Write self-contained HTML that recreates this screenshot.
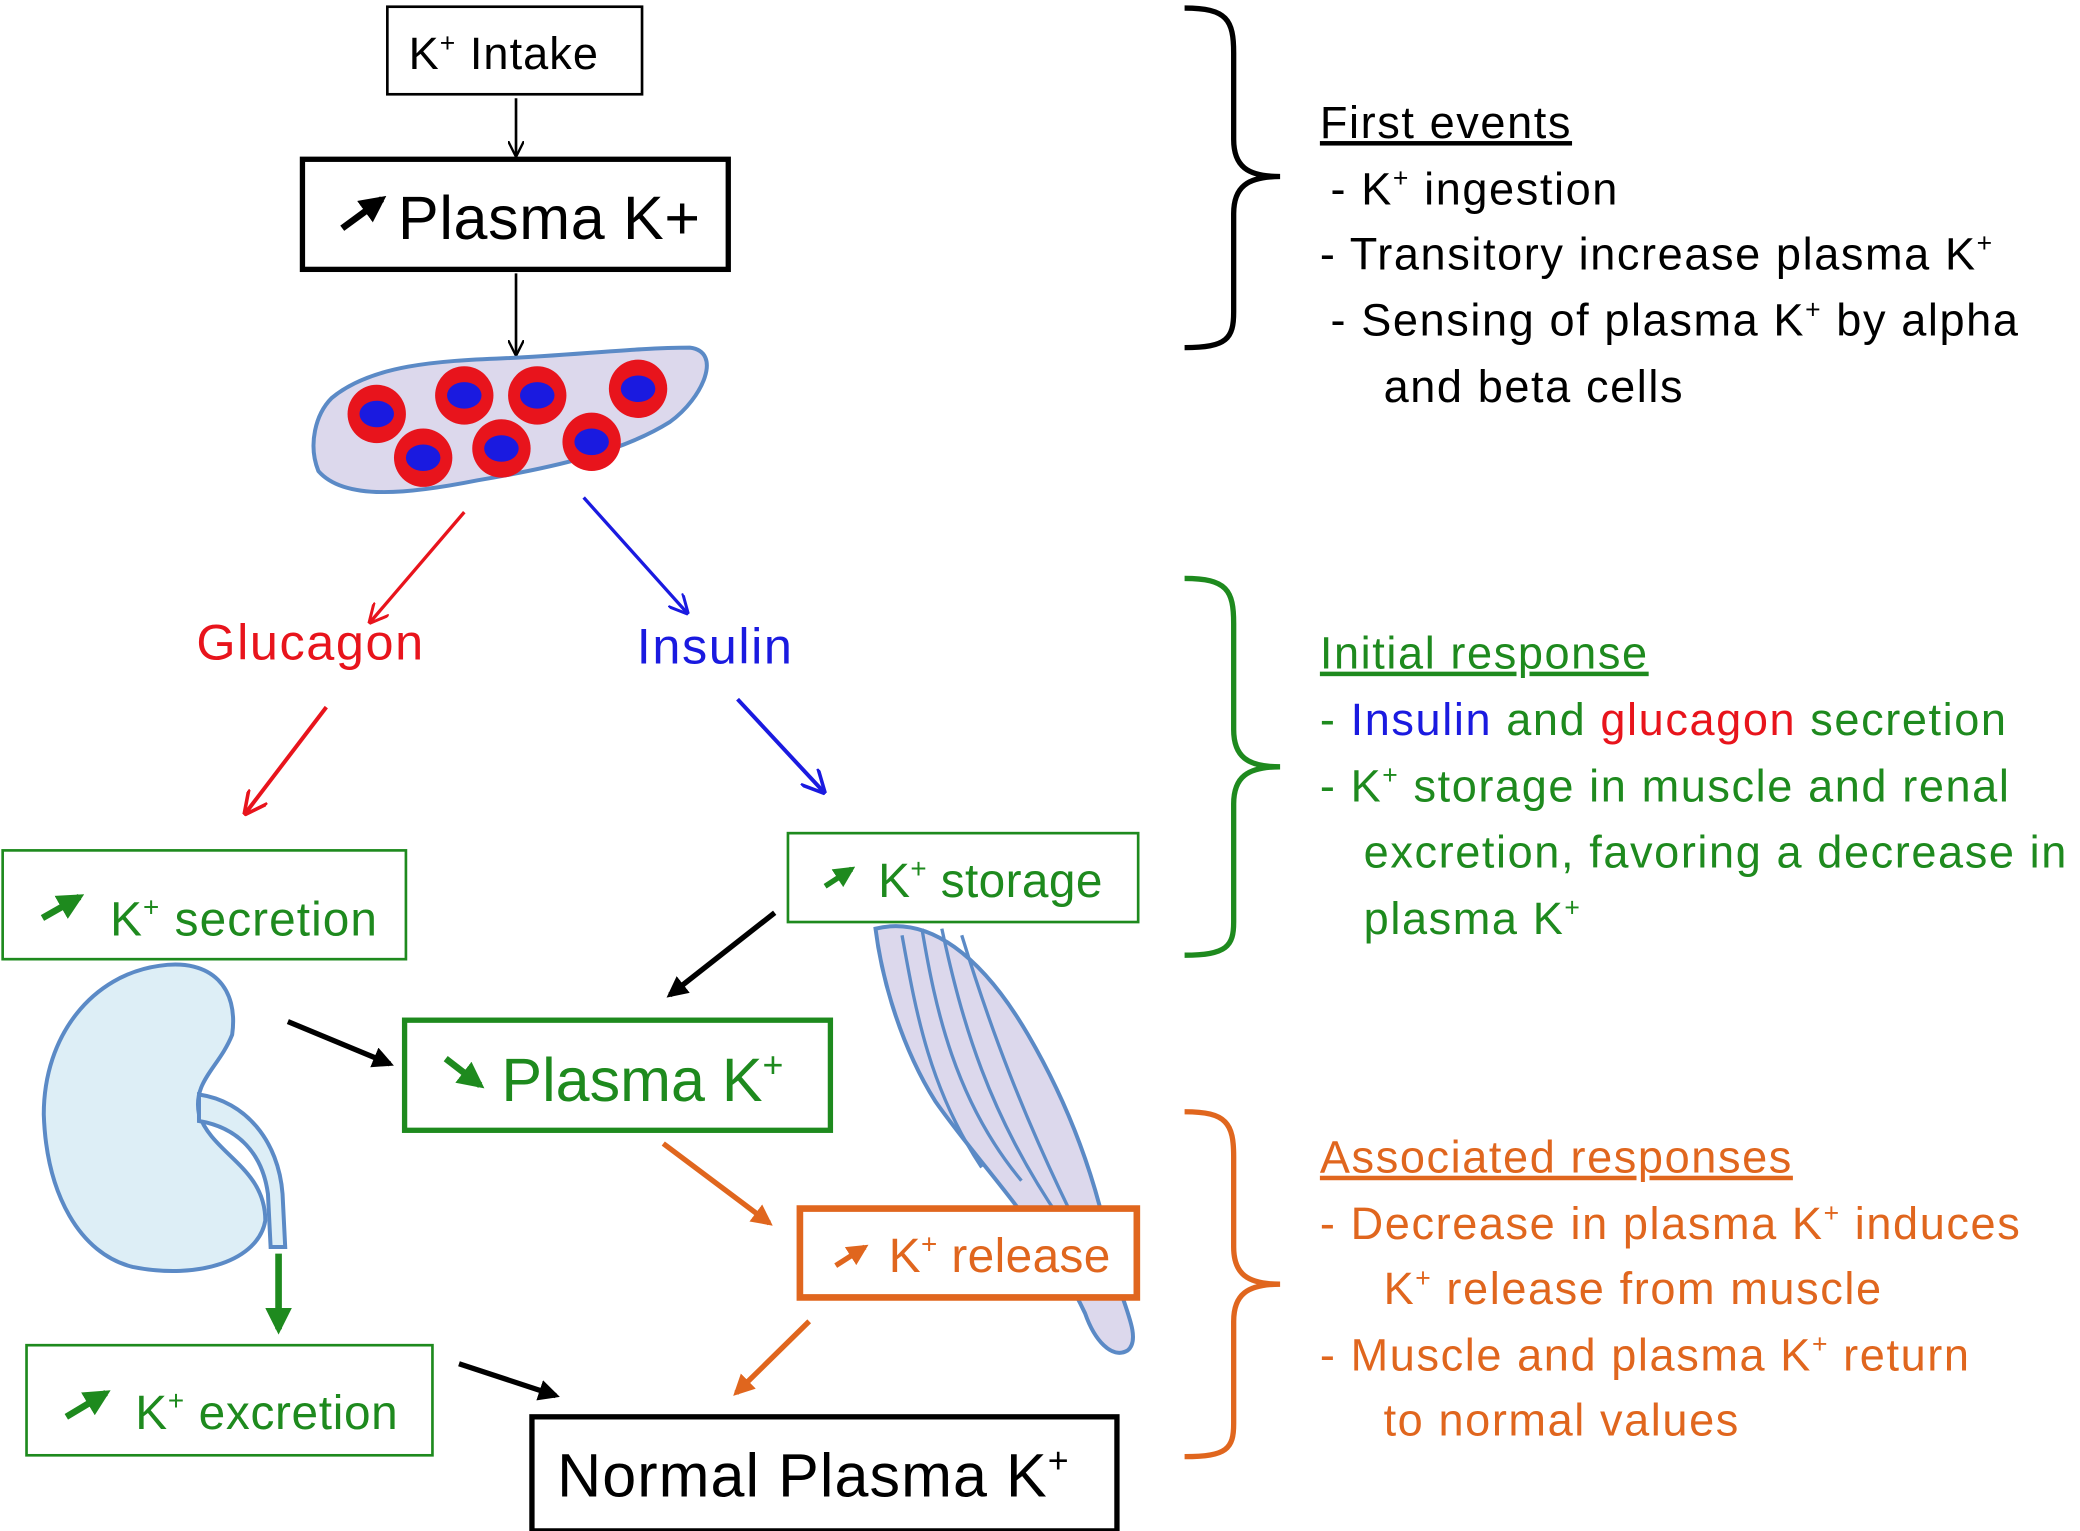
<!DOCTYPE html>
<html><head><meta charset="utf-8"><style>
html,body{margin:0;padding:0;background:#fff;}
svg{display:block;}
text{font-family:"Liberation Sans",sans-serif;}
</style></head><body>
<svg width="2080" height="1531" viewBox="0 0 1568 1154" xmlns="http://www.w3.org/2000/svg">
<defs>
<marker id="ak" viewBox="0 0 10 10" refX="9" refY="5" markerWidth="6" markerHeight="6" orient="auto"><path d="M0,0 L10,5 L0,10" fill="none" stroke="#000" stroke-width="1.5"/></marker>
<marker id="ar" viewBox="0 0 10 10" refX="9" refY="5" markerWidth="6" markerHeight="6" orient="auto"><path d="M0,0 L10,5 L0,10" fill="none" stroke="#e8141c" stroke-width="1.5"/></marker>
<marker id="ab" viewBox="0 0 10 10" refX="9" refY="5" markerWidth="6" markerHeight="6" orient="auto"><path d="M0,0 L10,5 L0,10" fill="none" stroke="#1a1ae0" stroke-width="1.5"/></marker>
<marker id="abk" viewBox="0 0 10 10" refX="8" refY="5" markerWidth="4" markerHeight="4" orient="auto"><path d="M0,0 L10,5 L0,10 z" fill="#000"/></marker>
<marker id="ao" viewBox="0 0 10 10" refX="8" refY="5" markerWidth="4" markerHeight="4" orient="auto"><path d="M0,0 L10,5 L0,10 z" fill="#e0661e"/></marker>
<marker id="ag" viewBox="0 0 10 10" refX="8" refY="5" markerWidth="4" markerHeight="4" orient="auto"><path d="M0,0 L10,5 L0,10 z" fill="#1e8a1e"/></marker>
</defs>

<rect x="292" y="5" width="192" height="66" fill="#fff" stroke="#000" stroke-width="2"/>
<text x="308" y="52" font-size="34" letter-spacing="0.8">K<tspan dy="-13" font-size="20">+</tspan><tspan dy="13"> Intake</tspan></text>
<line x1="389" y1="74" x2="389" y2="117" stroke="#000" stroke-width="2" marker-end="url(#ak)"/>
<rect x="228" y="120" width="321" height="83" fill="#fff" stroke="#000" stroke-width="4"/>
<line x1="258" y1="172" x2="288" y2="150" stroke="#000" stroke-width="5" marker-end="url(#abk)"/>
<text x="300" y="180" font-size="46" letter-spacing="0.5">Plasma K+</text>
<line x1="389" y1="206" x2="389" y2="267" stroke="#000" stroke-width="2" marker-end="url(#ak)"/>

<path d="M250,300 C280,275 330,272 380,270 C430,268 480,262 520,262 C545,265 530,300 505,318 C470,340 420,352 360,362 C310,372 260,378 240,355 C232,335 238,312 250,300 Z" fill="#dcd8ec" stroke="#5b8ac6" stroke-width="3"/>
<g fill="#e8141c"><circle cx="284" cy="312" r="22"/><circle cx="350" cy="298" r="22"/><circle cx="405" cy="298" r="22"/><circle cx="481" cy="293" r="22"/><circle cx="319" cy="345" r="22"/><circle cx="378" cy="338" r="22"/><circle cx="446" cy="333" r="22"/></g>
<g fill="#1a1ae0"><ellipse cx="284" cy="312" rx="13" ry="10"/><ellipse cx="350" cy="298" rx="13" ry="10"/><ellipse cx="405" cy="298" rx="13" ry="10"/><ellipse cx="481" cy="293" rx="13" ry="10"/><ellipse cx="319" cy="345" rx="13" ry="10"/><ellipse cx="378" cy="338" rx="13" ry="10"/><ellipse cx="446" cy="333" rx="13" ry="10"/></g>

<line x1="350" y1="386" x2="279" y2="469" stroke="#e8141c" stroke-width="2.5" marker-end="url(#ar)"/>
<line x1="440" y1="375" x2="518" y2="462" stroke="#1a1ae0" stroke-width="2.5" marker-end="url(#ab)"/>
<text x="148" y="497" font-size="38" fill="#e8141c" letter-spacing="1.2">Glucagon</text>
<text x="480" y="500" font-size="38" fill="#1a1ae0" letter-spacing="1.2">Insulin</text>
<line x1="246" y1="533" x2="185" y2="613" stroke="#e8141c" stroke-width="3" marker-end="url(#ar)"/>
<line x1="556" y1="527" x2="621" y2="597" stroke="#1a1ae0" stroke-width="3" marker-end="url(#ab)"/>

<path d="M660,700 C700,690 740,720 775,780 C810,840 830,900 840,960 C850,990 860,1010 850,1018 C838,1025 825,1010 818,990 C790,930 740,880 705,830 C680,790 665,740 660,700 Z" fill="#dcd8ec" stroke="#5b8ac6" stroke-width="3"/>
<g fill="none" stroke="#5b8ac6" stroke-width="2.5"><path d="M680,705 C690,760 700,820 740,880"/><path d="M695,700 C705,760 720,830 770,890"/><path d="M710,700 C725,770 745,840 800,920"/><path d="M725,705 C745,770 770,840 815,930"/></g>

<path d="M120,728 C160,722 180,745 175,780 C165,805 145,815 150,840 C160,870 200,880 200,920 C195,950 150,965 100,955 C60,945 35,900 33,840 C33,780 70,735 120,728 Z" fill="#ddeef6" stroke="#5b8ac6" stroke-width="3"/>
<path d="M150,825 C185,830 210,860 213,900 L215,940 L204,940 L202,900 C198,870 180,850 150,845 Z" fill="#ddeef6" stroke="#5b8ac6" stroke-width="3"/>

<rect x="2" y="641" width="304" height="82" fill="#fff" stroke="#1e8a1e" stroke-width="2"/>
<line x1="32" y1="692" x2="60" y2="676" stroke="#1e8a1e" stroke-width="5" marker-end="url(#ag)"/>
<text x="83" y="705" font-size="36" fill="#1e8a1e" letter-spacing="0.8">K<tspan dy="-14" font-size="21">+</tspan><tspan dy="14"> secretion</tspan></text>

<rect x="594" y="628" width="264" height="67" fill="#fff" stroke="#1e8a1e" stroke-width="2"/>
<line x1="622" y1="668" x2="642" y2="655" stroke="#1e8a1e" stroke-width="4" marker-end="url(#ag)"/>
<text x="662" y="676" font-size="36" fill="#1e8a1e" letter-spacing="0.3">K<tspan dy="-14" font-size="21">+</tspan><tspan dy="14"> storage</tspan></text>

<line x1="584" y1="688" x2="505" y2="750" stroke="#000" stroke-width="4" marker-end="url(#abk)"/>
<line x1="217" y1="770" x2="294" y2="802" stroke="#000" stroke-width="4" marker-end="url(#abk)"/>

<rect x="305" y="769" width="321" height="83" fill="#fff" stroke="#1e8a1e" stroke-width="4"/>
<line x1="336" y1="798" x2="362" y2="818" stroke="#1e8a1e" stroke-width="5" marker-end="url(#ag)"/>
<text x="378" y="830" font-size="46" fill="#1e8a1e">Plasma K<tspan dy="-18" font-size="27">+</tspan></text>

<line x1="500" y1="862" x2="580" y2="922" stroke="#e0661e" stroke-width="4" marker-end="url(#ao)"/>
<rect x="603" y="911" width="254" height="67" fill="#fff" stroke="#e0661e" stroke-width="5"/>
<line x1="630" y1="954" x2="652" y2="940" stroke="#e0661e" stroke-width="4" marker-end="url(#ao)"/>
<text x="670" y="959" font-size="36" fill="#e0661e" letter-spacing="0.3">K<tspan dy="-14" font-size="21">+</tspan><tspan dy="14"> release</tspan></text>
<line x1="610" y1="996" x2="555" y2="1050" stroke="#e0661e" stroke-width="4" marker-end="url(#ao)"/>

<line x1="210" y1="945" x2="210" y2="1002" stroke="#1e8a1e" stroke-width="5" marker-end="url(#ag)"/>
<rect x="20" y="1014" width="306" height="83" fill="#fff" stroke="#1e8a1e" stroke-width="2"/>
<line x1="50" y1="1068" x2="80" y2="1050" stroke="#1e8a1e" stroke-width="5" marker-end="url(#ag)"/>
<text x="102" y="1077" font-size="36" fill="#1e8a1e" letter-spacing="0.5">K<tspan dy="-14" font-size="21">+</tspan><tspan dy="14"> excretion</tspan></text>
<line x1="346" y1="1028" x2="419" y2="1052" stroke="#000" stroke-width="4" marker-end="url(#abk)"/>

<rect x="401" y="1068" width="441" height="86" fill="#fff" stroke="#000" stroke-width="4"/>
<text x="420" y="1128" font-size="46" letter-spacing="0.8">Normal Plasma K<tspan dy="-18" font-size="27">+</tspan></text>

<path d="M893,6 C925,6 930,15 930,40 L930,105 C930,125 940,133 965,133 C940,133 930,141 930,161 L930,235 C930,255 925,262 893,262" fill="none" stroke="#000" stroke-width="4"/>
<path d="M893,436 C925,436 930,445 930,470 L930,550 C930,570 940,578 965,578 C940,578 930,586 930,606 L930,695 C930,713 925,720 893,720" fill="none" stroke="#1e8a1e" stroke-width="4"/>
<path d="M893,838 C925,838 930,847 930,872 L930,940 C930,960 940,968 965,968 C940,968 930,976 930,996 L930,1073 C930,1092 925,1098 893,1098" fill="none" stroke="#e0661e" stroke-width="4"/>

<g font-size="34" letter-spacing="1.2">
<text x="995" y="104" text-decoration="underline">First events</text>
<text x="1003" y="154">- K<tspan dy="-13" font-size="20">+</tspan><tspan dy="13"> ingestion</tspan></text>
<text x="995" y="203">- Transitory increase plasma K<tspan dy="-13" font-size="20">+</tspan></text>
<text x="1003" y="253">- Sensing of plasma K<tspan dy="-13" font-size="20">+</tspan><tspan dy="13"> by alpha</tspan></text>
<text x="1043" y="303">and beta cells</text>
</g>
<g font-size="34" fill="#1e8a1e" letter-spacing="1.2">
<text x="995" y="504" text-decoration="underline">Initial response</text>
<text x="995" y="554">- <tspan fill="#1a1ae0">Insulin</tspan> and <tspan fill="#e8141c">glucagon</tspan> secretion</text>
<text x="995" y="604">- K<tspan dy="-13" font-size="20">+</tspan><tspan dy="13"> storage in muscle and renal</tspan></text>
<text x="1028" y="654">excretion, favoring a decrease in</text>
<text x="1028" y="704">plasma K<tspan dy="-13" font-size="20">+</tspan></text>
</g>
<g font-size="34" fill="#e0661e" letter-spacing="1.2">
<text x="995" y="884" text-decoration="underline">Associated responses </text>
<text x="995" y="934">- Decrease in plasma K<tspan dy="-13" font-size="20">+</tspan><tspan dy="13"> induces</tspan></text>
<text x="1043" y="983">K<tspan dy="-13" font-size="20">+</tspan><tspan dy="13"> release from muscle</tspan></text>
<text x="995" y="1033">- Muscle and plasma K<tspan dy="-13" font-size="20">+</tspan><tspan dy="13"> return</tspan></text>
<text x="1043" y="1082">to normal values</text>
</g>
</svg>
</body></html>
